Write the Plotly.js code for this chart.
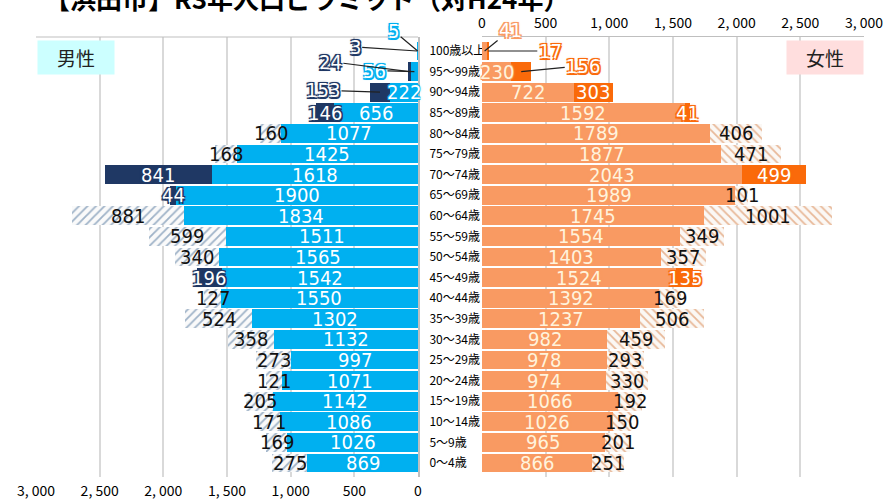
<!DOCTYPE html>
<html>
<head>
<meta charset="utf-8">
<script src="https://cdn.plot.ly/plotly-3.0.1.min.js"></script>
<style>html,body{margin:0;padding:0;background:#fff}#chart{width:886px;height:502px}</style>
</head>
<body>
<div id="chart"></div>
<script>
// ---- data (top row = oldest) ----
const ages = ["100歳以上","95〜99歳","90〜94歳","85〜89歳","80〜84歳","75〜79歳","70〜74歳","65〜69歳","60〜64歳","55〜59歳","50〜54歳","45〜49歳","40〜44歳","35〜39歳","30〜34歳","25〜29歳","20〜24歳","15〜19歳","10〜14歳","5〜9歳","0〜4歳"];
const maleBase = [5,56,222,656,1077,1425,1618,1900,1834,1511,1565,1542,1550,1302,1132,997,1071,1142,1086,1026,869];
const maleDiff = [3,24,153,146,160,168,841,44,881,599,340,196,127,524,358,273,121,205,171,169,275];
const maleUp   = [1,1,1,1,0,0,1,1,0,0,0,1,0,0,0,0,0,0,0,0,0]; // 1 = solid (increase), 0 = hatched (decrease)
const femaleBase = [41,230,722,1592,1789,1877,2043,1989,1745,1554,1403,1524,1392,1237,982,978,974,1066,1026,965,866];
const femaleDiff = [17,156,303,41,406,471,499,101,1001,349,357,135,169,506,459,293,330,192,150,201,251];
const femaleUp   = [1,1,1,1,0,0,1,0,0,0,0,1,0,0,0,0,0,0,0,0,0];
const tickVals = [0,500,1000,1500,2000,2500,3000];
const tickText = ["0","500","1, 000","1, 500","2, 000","2, 500","3, 000"];
const titleText = "【浜田市】R3年人口ピラミッド（対H24年）";

// ---- styles ----
const C = {mLight:"#00B0F0", mDark:"#1F3864", fLight:"#F99A62", fDark:"#FA6A0A"};
const numFont = "DejaVu Sans Condensed, Liberation Sans Narrow, sans-serif";
const jpFont = "Noto Sans CJK JP, sans-serif";
function outline(c, r){ r=r||1.5; return `${r}px ${r}px 0 ${c}, -${r}px -${r}px 0 ${c}, ${r}px -${r}px 0 ${c}, -${r}px ${r}px 0 ${c}, 0 0 3px ${c}`; }

function sel(arr, flag, want){ return arr.map((v,i)=> flag[i]===want ? v : 0); }

const traces = [];
// male
traces.push({type:"bar", orientation:"h", y:ages, x:maleBase, xaxis:"x", yaxis:"y",
  marker:{color:C.mLight, line:{width:0}}, hoverinfo:"x+y"});
traces.push({type:"bar", orientation:"h", y:ages, x:sel(maleDiff,maleUp,1), xaxis:"x", yaxis:"y",
  marker:{color:C.mDark, line:{width:0}}, hoverinfo:"x+y"});
traces.push({type:"bar", orientation:"h", y:ages, x:sel(maleDiff,maleUp,0), xaxis:"x", yaxis:"y",
  marker:{color:"#FFFFFF", line:{width:0}, pattern:{shape:"/", fgcolor:"#9FB3C8", bgcolor:"#FAFAFA", size:6, solidity:0.3}}, hoverinfo:"x+y"});
// female
traces.push({type:"bar", orientation:"h", y:ages, x:femaleBase, xaxis:"x2", yaxis:"y",
  marker:{color:C.fLight, line:{width:0}}, hoverinfo:"x+y"});
traces.push({type:"bar", orientation:"h", y:ages, x:sel(femaleDiff,femaleUp,1), xaxis:"x2", yaxis:"y",
  marker:{color:C.fDark, line:{width:0}}, hoverinfo:"x+y"});
traces.push({type:"bar", orientation:"h", y:ages, x:sel(femaleDiff,femaleUp,0), xaxis:"x2", yaxis:"y",
  marker:{color:"#FFFFFF", line:{width:0}, pattern:{shape:"\\", fgcolor:"#E8B898", bgcolor:"#FBF8F5", size:6, solidity:0.3}}, hoverinfo:"x+y"});

// ---- labels ----
const ann = [];
// leader-line offsets (pixels) for the rows whose bars are too short
const maleOff = {0:{base:[-24,-20], diff:[-62,-4]}, 1:{base:[-40,-1], diff:[-79,-10]}, 2:{diff:[-57,-2]}};
const femOff  = {0:{base:[26,-21], diff:[62,0]}, 1:{diff:[62,-6]}};
const NS = 20;

function addLabels(base, diff, up, xref, off, lightCol, darkCol, baseTxtCol){
  for(let i=0;i<ages.length;i++){
    const o = off[i] || {};
    const bx = base[i]/2;
    const bA = {x:bx, y:ages[i], xref:xref, yref:"y", text:String(base[i]), showarrow:false,
      font:{family:numFont, size:NS, color:baseTxtCol, shadow:outline(lightCol,0.6)}};
    if(o.base){ Object.assign(bA,{showarrow:true, arrowhead:0, arrowwidth:1.2, arrowcolor:"#222", ax:o.base[0], ay:o.base[1], standoff:0,
      font:{family:numFont, size:NS, color:"#FFFFFF", shadow:outline(lightCol,1.5)}}); }
    ann.push(bA);
    const dx = base[i] + diff[i]/2;
    let dA;
    if(up[i]){
      dA = {x:dx, y:ages[i], xref:xref, yref:"y", text:String(diff[i]), showarrow:false,
        font:{family:numFont, size:NS, color:"#FFFFFF", shadow:outline(darkCol,1.5)}};
    } else {
      dA = {x:dx, y:ages[i], xref:xref, yref:"y", text:String(diff[i]), showarrow:false,
        font:{family:numFont, size:NS, color:"#111111"}};
    }
    if(o.diff){ Object.assign(dA,{showarrow:true, arrowhead:0, arrowwidth:1.2, arrowcolor:"#222", ax:o.diff[0], ay:o.diff[1], standoff:0}); }
    ann.push(dA);
  }
}
addLabels(maleBase, maleDiff, maleUp, "x", maleOff, C.mLight, C.mDark, "#FFFFFF");
addLabels(femaleBase, femaleDiff, femaleUp, "x2", femOff, C.fLight, C.fDark, "#FFF3DC");

// title and sex boxes
ann.push({xref:"paper", yref:"paper", x:0.3465, y:(477+3)/440, xanchor:"center", yanchor:"middle", text:"<b>"+titleText+"</b>", showarrow:false,
  font:{family:jpFont, size:26, color:"#000"}});
ann.push({xref:"paper", yref:"paper", x:37/886, y:(477-40)/440, xanchor:"left", yanchor:"top", text:"男性", showarrow:false,
  bgcolor:"#CCFFFF", width:74, height:31, font:{family:jpFont, size:19, color:"#222"}});
ann.push({xref:"paper", yref:"paper", x:864/886, y:(477-40)/440, xanchor:"right", yanchor:"top", text:"女性", showarrow:false,
  bgcolor:"#FFDEDE", width:74, height:31, font:{family:jpFont, size:19, color:"#222"}});

const layout = {
  width:886, height:502, margin:{l:0, r:0, t:37, b:25},
  paper_bgcolor:"#fff", plot_bgcolor:"rgba(0,0,0,0)",
  barmode:"stack", bargap:0.09, showlegend:false,
  font:{family:jpFont, color:"#000"},
  xaxis:{domain:[36/886, 418/886], range:[3000,0], side:"bottom", anchor:"y",
    tickvals:tickVals, ticktext:tickText, tickfont:{family:jpFont, size:14, color:"#000"}, ticklabelstandoff:4,
    showgrid:true, gridcolor:"#D9D9D9", gridwidth:2, zeroline:false, showline:false, ticks:"", fixedrange:true},
  xaxis2:{domain:[482/886, 864/886], range:[0,3000], side:"top", anchor:"y",
    tickvals:tickVals, ticktext:tickText, tickfont:{family:jpFont, size:14, color:"#000"}, ticklabelstandoff:2,
    showgrid:true, gridcolor:"#D9D9D9", gridwidth:2, zeroline:false, showline:true, linecolor:"#BFBFBF", linewidth:1, ticks:"", fixedrange:true},
  yaxis:{anchor:"x", side:"right", autorange:"reversed", type:"category",
    tickfont:{family:jpFont, size:12, color:"#000"}, ticks:"", ticklabelstandoff:7,
    showline:true, linecolor:"#BFBFBF", linewidth:2, showgrid:false, zeroline:false},
  shapes:[{type:"line", xref:"paper", yref:"paper", x0:36/886, x1:418/886, y0:1, y1:1, line:{color:"#BFBFBF", width:1}}],
  annotations:ann
};
Plotly.newPlot("chart", traces, layout, {displayModeBar:false, staticPlot:true});
</script>
</body>
</html>
